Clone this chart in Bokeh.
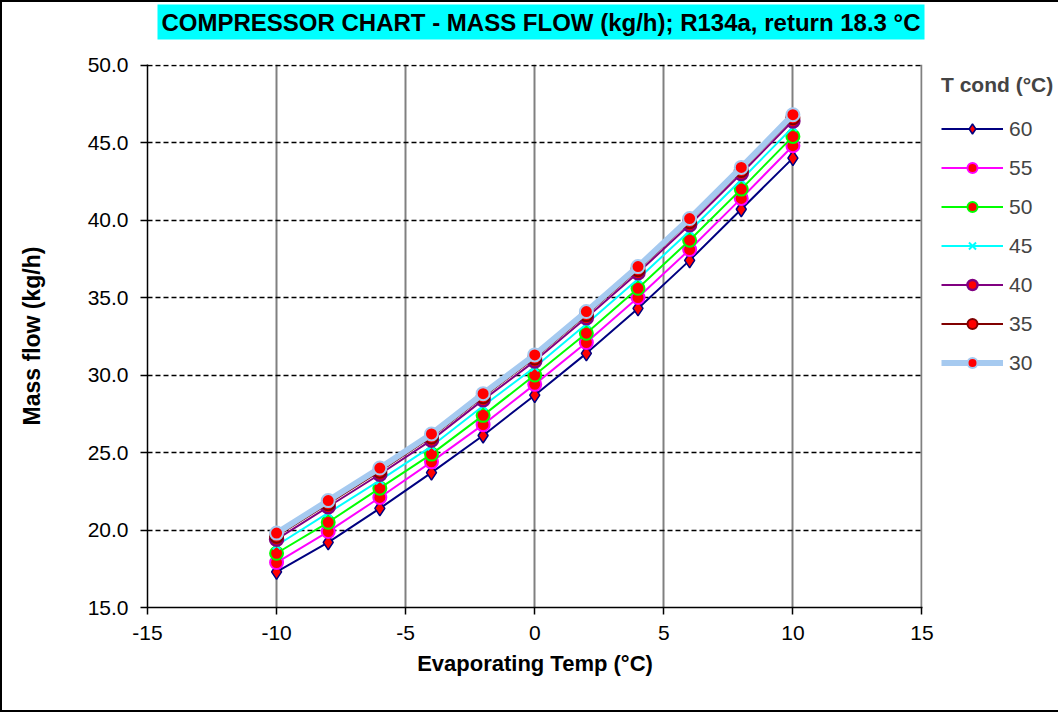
from bokeh.plotting import figure
from bokeh.models import (Range1d, FixedTicker, PrintfTickFormatter, Legend,
                          LegendItem, Title)
from bokeh.embed import file_html
from bokeh.resources import INLINE

# ---- data ----
evap_temp = [-10, -8, -6, -4, -2, 0, 2, 4, 6, 8, 10]
flow_60 = [17.3, 19.2, 21.4, 23.7, 26.1, 28.7, 31.4, 34.3, 37.4, 40.7, 44.0]
flow_55 = [17.9, 19.9, 22.1, 24.4, 26.8, 29.4, 32.1, 35.0, 38.1, 41.4, 44.8]
flow_50 = [18.5, 20.5, 22.7, 24.9, 27.4, 30.0, 32.7, 35.6, 38.7, 42.0, 45.4]
flow_45 = [19.0, 21.1, 23.2, 25.4, 28.0, 30.5, 33.3, 36.2, 39.3, 42.6, 46.0]
flow_40 = [19.4, 21.5, 23.6, 25.8, 28.4, 30.9, 33.7, 36.6, 39.7, 43.0, 46.4]
flow_35 = [19.6, 21.7, 23.8, 26.0, 28.6, 31.1, 33.9, 36.8, 39.9, 43.2, 46.6]
flow_30 = [19.8, 21.9, 24.0, 26.2, 28.8, 31.3, 34.1, 37.0, 40.1, 43.4, 46.8]

series_labels = ["60", "55", "50", "45", "40", "35", "30"]
x_ticks = [-15, -10, -5, 0, 5, 10, 15]
y_ticks = [15, 20, 25, 30, 35, 40, 45, 50]

FONT = "Liberation Sans"

p = figure(frame_width=775, frame_height=543, output_backend="svg",
           toolbar_location=None,
           x_range=Range1d(-15, 15.02), y_range=Range1d(15, 50.04),
           min_border_left=145, min_border_right=134,
           min_border_top=62, min_border_bottom=103)
p.outline_line_color = None
p.background_fill_color = "white"
p.border_fill_color = "white"
p.styles = {"border": "2px solid black"}

# axes
for ax in (p.xaxis[0], p.yaxis[0]):
    ax.axis_line_color = "black"
    ax.axis_line_width = 1.5
    ax.major_tick_line_color = "black"
    ax.major_tick_line_width = 1.5
    ax.major_tick_in = 0
    ax.major_tick_out = 7
    ax.minor_tick_line_color = None
    ax.major_label_text_font = FONT
    ax.major_label_text_font_size = "21px"
    ax.major_label_text_color = "black"
    ax.axis_label_text_font = FONT
    ax.axis_label_text_font_style = "bold"
    ax.axis_label_text_color = "black"

p.xaxis.ticker = FixedTicker(ticks=x_ticks)
p.yaxis.ticker = FixedTicker(ticks=y_ticks)
p.xaxis.formatter = PrintfTickFormatter(format="%d")
p.yaxis.formatter = PrintfTickFormatter(format="%.1f")
p.xaxis.axis_label = "Evaporating Temp (°C)"
p.yaxis.axis_label = "Mass flow (kg/h)"
p.xaxis.axis_label_text_font_size = "22px"
p.yaxis.axis_label_text_font_size = "23px"
p.xaxis.major_label_standoff = 11
p.yaxis.major_label_standoff = 12
p.xaxis.axis_label_standoff = 8
p.yaxis.axis_label_standoff = 40

# grids
p.xgrid.ticker = FixedTicker(ticks=[-10, -5, 0, 5, 10, 15])
p.xgrid.grid_line_color = "#808080"
p.xgrid.grid_line_width = 2
p.ygrid.ticker = FixedTicker(ticks=[20, 25, 30, 35, 40, 45, 50])
p.ygrid.grid_line_color = "black"
p.ygrid.grid_line_width = 1.5
p.ygrid.grid_line_dash = "5 3"

# series (drawn 60 first, 30 last, as in the reference)
styles = [
    (flow_60, "#000080", 2, "diamond", 15, "red", "#000080", 1.5),
    (flow_55, "#FF00FF", 2, "circle", 13, "red", "#FF00FF", 2),
    (flow_50, "#00FF00", 2, "circle", 13, "red", "#00FF00", 2),
    (flow_45, "#00FFFF", 2, "x", 11, None, "#00FFFF", 2),
    (flow_40, "#800080", 2, "circle", 13, "red", "#800080", 2.5),
    (flow_35, "#800000", 2, "circle", 13, "red", "#800000", 2),
    (flow_30, "#A6CAF0", 6, "circle", 13, "red", "#A6CAF0", 2),
]
items = []
for lab, (ys, lc, lw, mk, ms, fc, mlc, mlw) in zip(series_labels, styles):
    r1 = p.line(evap_temp, ys, line_color=lc, line_width=lw)
    r2 = p.scatter(evap_temp, ys, marker=mk, size=ms, fill_color=fc,
                   line_color=mlc, line_width=mlw)
    items.append(LegendItem(label=lab, renderers=[r1, r2]))

legend = Legend(items=items, location=(19, 232), padding=0, margin=0,
                spacing=14, glyph_width=62, glyph_height=25, label_height=25,
                label_standoff=6, label_text_font=FONT,
                label_text_font_size="21px", border_line_color=None,
                background_fill_alpha=0,
                title="T cond (°C)", title_text_font=FONT,
                title_text_font_size="21px", title_text_font_style="bold",
                title_standoff=19)
p.add_layout(legend, "right")

# invisible spacer between the frame and the title box
p.add_layout(Title(text=" ", text_font=FONT, text_font_size="10px",
                   padding=0, standoff=12), "above")
title = Title(text="COMPRESSOR CHART - MASS FLOW (kg/h); R134a, return 18.3 °C",
              align="left", offset=10, standoff=0,
              text_font=FONT, text_font_size="24px", text_font_style="bold",
              text_color="black", background_fill_color="#00FFFF", padding=4)
p.add_layout(title, "above")

open("out.html", "w").write(file_html(p, INLINE))
